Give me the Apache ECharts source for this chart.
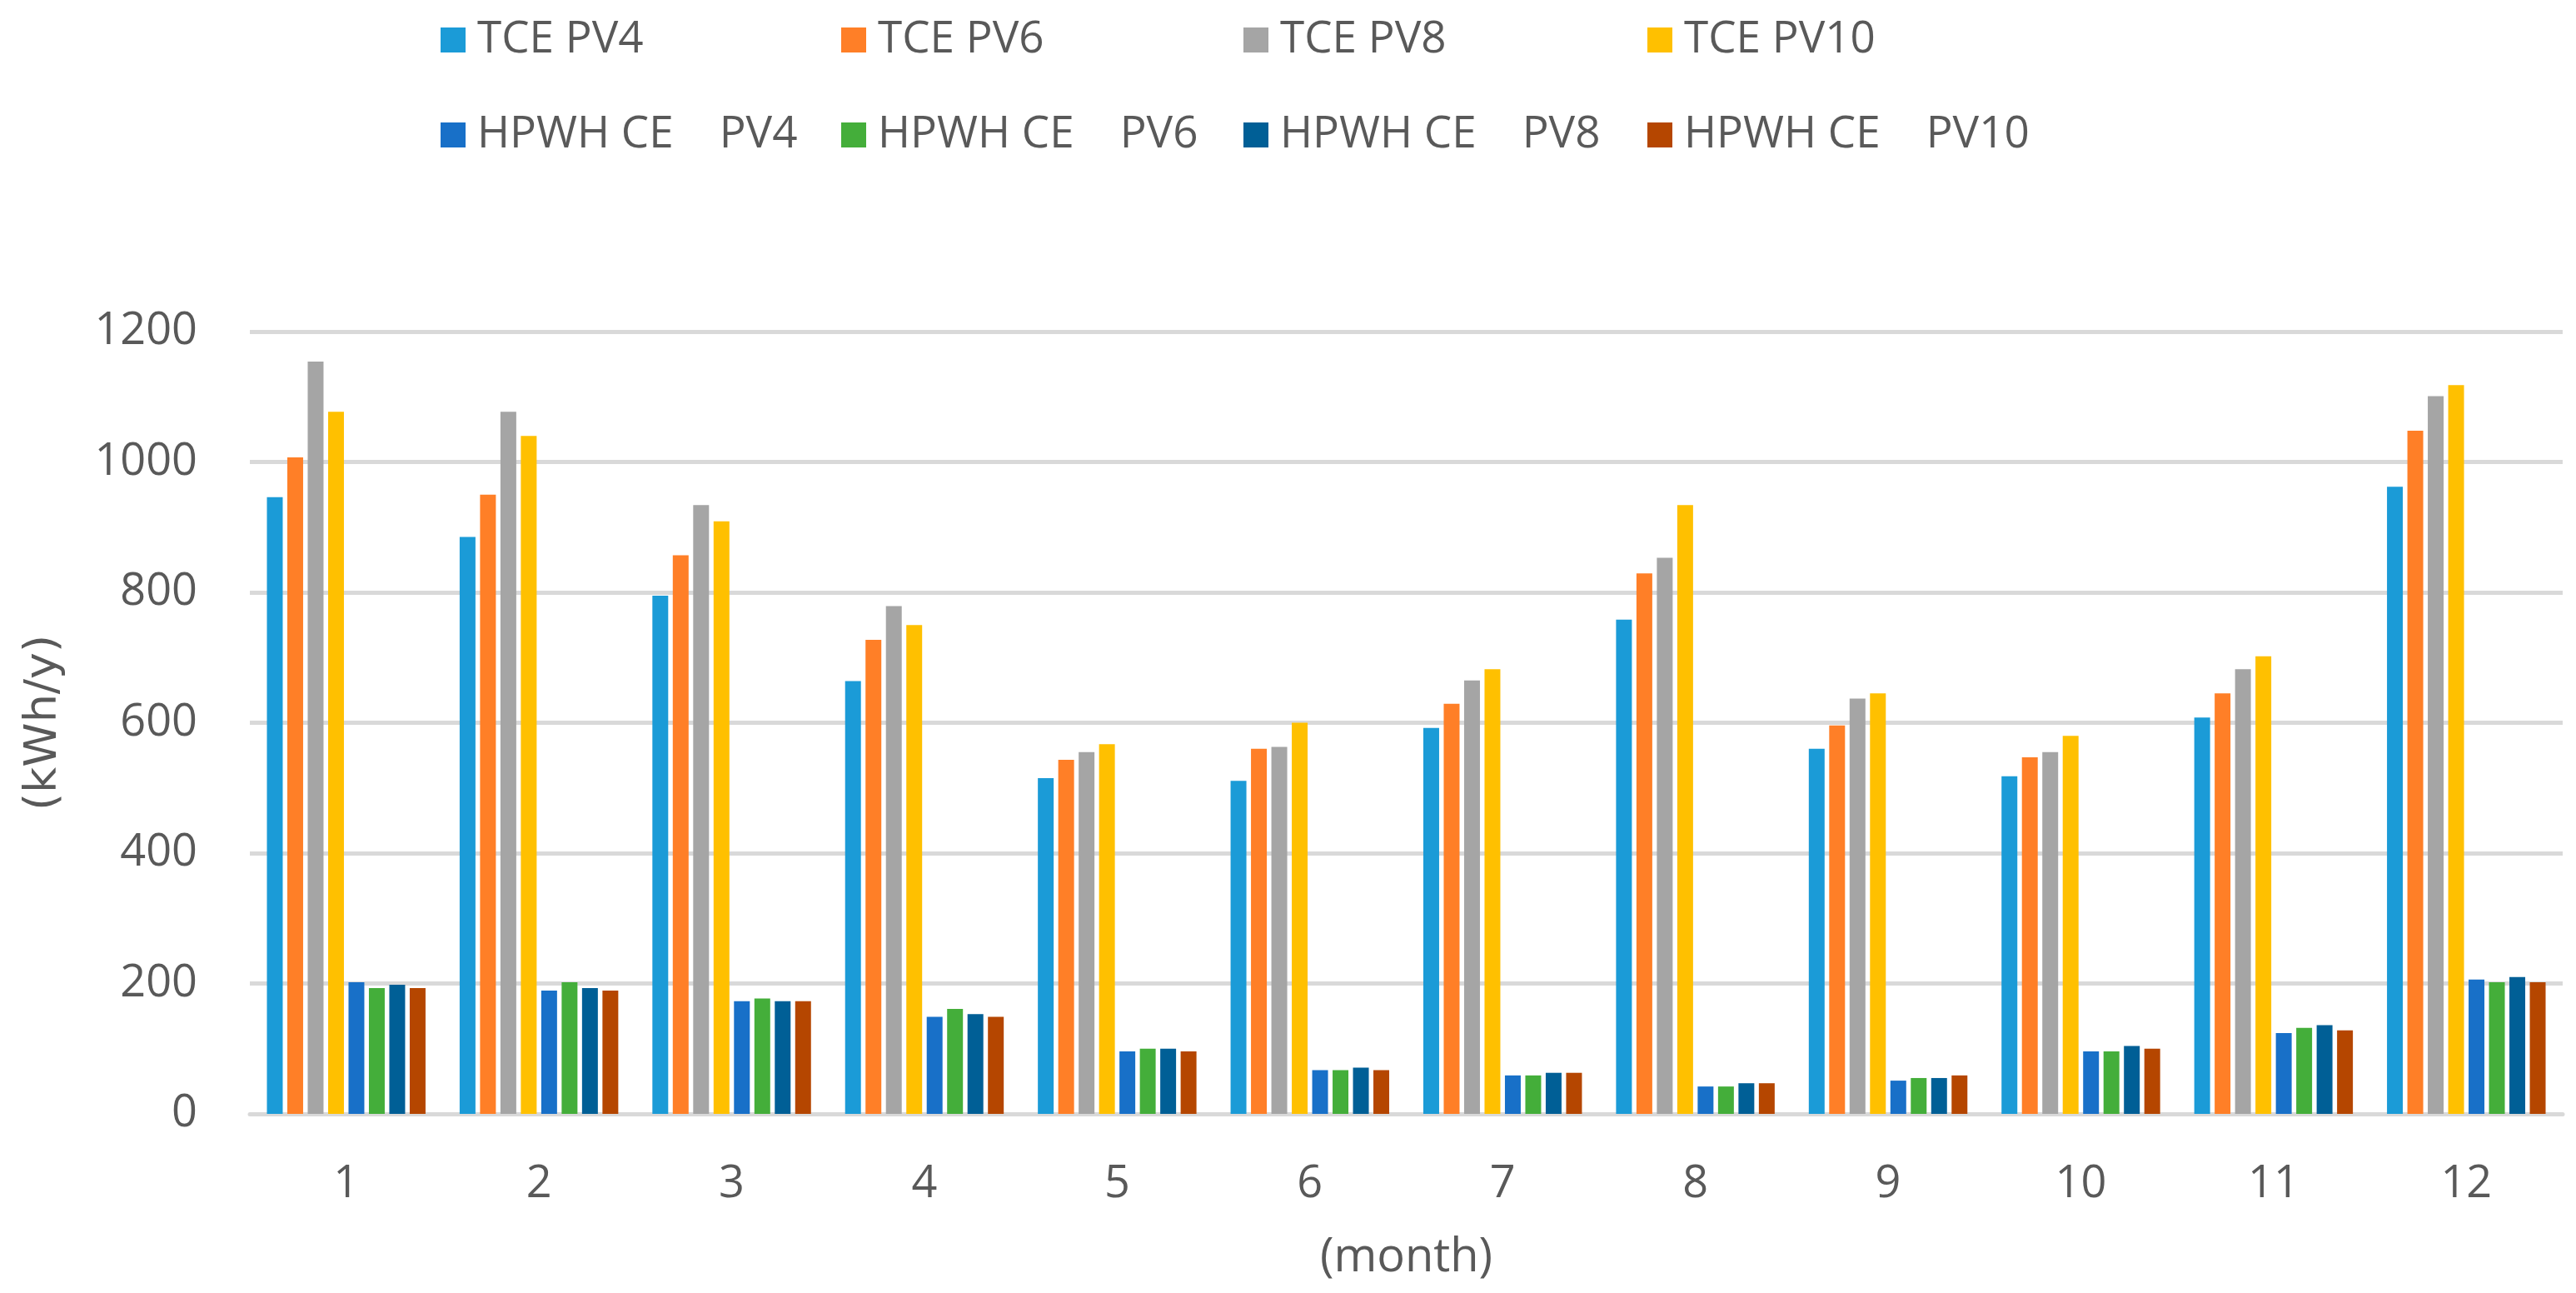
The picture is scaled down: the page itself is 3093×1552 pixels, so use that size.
<!DOCTYPE html>
<html>
<head>
<meta charset="utf-8">
<script src="https://cdn.jsdelivr.net/npm/echarts@6/dist/echarts.min.js"></script>
<style>
html,body{margin:0;padding:0;background:#fff;}
#chart{width:3093px;height:1552px;}
</style>
</head>
<body>
<div id="chart"></div>
<script>
const months = ['1','2','3','4','5','6','7','8','9','10','11','12'];
const yTicks = [0, 200, 400, 600, 800, 1000, 1200];

const seriesNames = ['TCE PV4','TCE PV6','TCE PV8','TCE PV10',
  'HPWH CE    PV4','HPWH CE    PV6','HPWH CE    PV8','HPWH CE    PV10'];

const tcePV4  = [946, 885, 795, 664, 515, 511, 592, 758, 560, 518, 608, 962];
const tcePV6  = [1007, 950, 857, 727, 543, 560, 629, 829, 596, 547, 645, 1048];
const tcePV8  = [1154, 1077, 934, 779, 555, 563, 665, 853, 637, 555, 682, 1101];
const tcePV10 = [1077, 1040, 909, 750, 567, 600, 682, 934, 645, 580, 702, 1118];
const hpwhPV4  = [202, 189, 173, 149, 96, 67, 59, 42, 51, 96, 124, 206];
const hpwhPV6  = [193, 202, 177, 161, 100, 67, 59, 42, 55, 96, 132, 202];
const hpwhPV8  = [198, 193, 173, 153, 100, 71, 63, 47, 55, 104, 136, 210];
const hpwhPV10 = [193, 189, 173, 149, 96, 67, 63, 47, 59, 100, 128, 202];

const seriesData = [tcePV4, tcePV6, tcePV8, tcePV10, hpwhPV4, hpwhPV6, hpwhPV8, hpwhPV10];
const colors = ['#1B9BD7','#FF7F27','#A5A5A5','#FFC000','#1870C8','#44AE3A','#005F96','#B54600'];

const legendLeft = [529, 1010, 1493, 1978];
const legendTop = [20, 134];

const legends = seriesNames.map((n, i) => ({
  data: [n],
  left: legendLeft[i % 4],
  top: legendTop[Math.floor(i / 4)],
  padding: 0,
  icon: 'rect',
  itemWidth: 30,
  itemHeight: 30,
  textStyle: {fontFamily: 'Open Sans', fontSize: 53, color: '#595959', lineHeight: 56, padding: [0,0,0,9]}
}));

const chart = echarts.init(document.getElementById('chart'));
chart.setOption({
  animation: false,
  color: colors,
  legend: legends,
  grid: {left: 300, right: 16, top: 398, bottom: 215, containLabel: false},
  xAxis: {
    type: 'category',
    data: months,
    name: '(month)',
    nameLocation: 'middle',
    nameGap: 145,
    nameTextStyle: {fontFamily: 'Open Sans', fontSize: 56, color: '#595959', lineHeight: 56},
    axisLine: {lineStyle: {color: '#D9D9D9', width: 5}},
    axisTick: {show: false},
    axisLabel: {fontFamily: 'Open Sans', fontSize: 54, color: '#595959', margin: 58, lineHeight: 54}
  },
  yAxis: {
    type: 'value',
    min: yTicks[0],
    max: yTicks[yTicks.length - 1],
    interval: 200,
    name: '(kWh/y)',
    nameLocation: 'middle',
    nameGap: 220,
    nameTextStyle: {fontFamily: 'DejaVu Sans', fontSize: 54, color: '#595959'},
    axisLine: {show: false},
    axisTick: {show: false},
    splitLine: {lineStyle: {color: '#D9D9D9', width: 5}},
    axisLabel: {fontFamily: 'Open Sans', fontSize: 54, color: '#595959', margin: 63,
      formatter: v => String(v)}
  },
  series: seriesNames.map((n, i) => ({
    name: n,
    type: 'bar',
    data: seriesData[i],
    barGap: '29%',
    barCategoryGap: '17.7%',
    itemStyle: {color: colors[i]}
  }))
});
</script>
</body>
</html>
